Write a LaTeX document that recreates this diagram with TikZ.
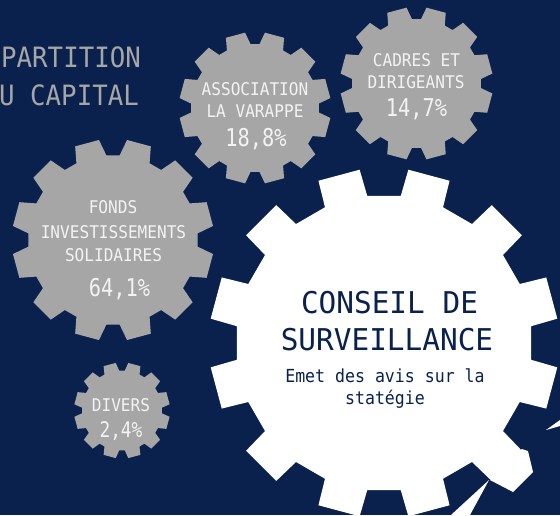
\documentclass[tikz,border=0pt]{standalone}
\usepackage{fontspec}
\newfontfamily\monofont[FakeStretch=0.92]{DejaVu Sans Mono}
\newfontfamily\titlefont[FakeStretch=0.98]{DejaVu Sans Mono}
\newfontfamily\pctfont[FakeStretch=0.83]{DejaVu Sans Mono}
\definecolor{navy}{RGB}{9,33,76}
\definecolor{geargray}{RGB}{166,166,166}
\definecolor{txtwhite}{RGB}{243,243,243}
% #1 colour, #2 x, #3 y, #4 outer radius, #5 root radius, #6 tip half angle, #7 root half angle
\newcommand{\gearfill}[7]{%
  \begin{scope}[shift={(#2,#3)}]
    \fill[#1] ({15-#7}:#5)
      \foreach \k in {0,...,11}{
        -- ({15+30*\k-#7}:#5) -- ({15+30*\k-#6}:#4)
        -- ({15+30*\k+#6}:#4) -- ({15+30*\k+#7}:#5)
      } -- cycle;
  \end{scope}}
\tikzset{
  head/.style={text=geargray, inner sep=0pt, anchor=base east, font=\monofont\fontsize{28}{30}\selectfont},
  lbl/.style={text=txtwhite, inner sep=0pt, anchor=base, font=\monofont\fontsize{17.5}{19}\selectfont},
  pct/.style={text=txtwhite, inner sep=0pt, anchor=base, font=\pctfont\fontsize{24.5}{26}\selectfont},
  pctsmall/.style={pct, font=\pctfont\fontsize{21.5}{23}\selectfont},
  ttl/.style={text=navy, inner sep=0pt, anchor=base, font=\titlefont\fontsize{30}{32}\selectfont},
  sub/.style={text=navy, inner sep=0pt, anchor=base, font=\monofont\fontsize{18}{20}\selectfont},
}
\begin{document}
\begin{tikzpicture}[x=1pt,y=-1pt]
  \useasboundingbox (0,0) rectangle (560,515);
  \clip (0,0) rectangle (560,515);
  \fill[navy] (0,0) rectangle (560,515);

  % gray gears
  \gearfill{geargray}{255}{108}{76}{64}{7.5}{11}
  \gearfill{geargray}{416.5}{83.5}{76.5}{64.5}{7.5}{11}
  \gearfill{geargray}{113}{240}{101}{85}{7}{10.5}
  \gearfill{geargray}{122}{410.5}{48}{40}{7.5}{11}

  % white gear
  \gearfill{white}{384}{343}{175}{148}{7}{8.5}
  % white fragments at the lower right
  \fill[white] (522,449) -- (528,451) -- (533,472) -- (513,492) -- (490,480) -- (505,465) -- cycle;
  \fill[white] (489,480) -- (451,515) -- (470,515) -- cycle;
  \fill[white] (546,430) -- (560,420) -- (560,426) -- cycle;

  % heading
  \node[head] (h1) at (141,67.7) {PARTITION};
  \node[head] (h2) at (139,105) {U CAPITAL};

  % association
  \node[lbl] (a1) at (255,95) {ASSOCIATION};
  \node[lbl] (a2) at (255,117.3) {LA VARAPPE};
  \node[pct] (a3) at (256,146.7) {18,8\%};

  % cadres
  \node[lbl] (c1) at (416.5,66) {CADRES ET};
  \node[lbl] (c2) at (416,88.3) {DIRIGEANTS};
  \node[pct] (c3) at (416.5,116.7) {14,7\%};

  % fonds
  \node[lbl] (f1) at (113,213.3) {FONDS};
  \node[lbl] (f2) at (113.5,238.3) {INVESTISSEMENTS};
  \node[lbl] (f3) at (113.5,261) {SOLIDAIRES};
  \node[pct] (f4) at (119.5,296) {64,1\%};

  % divers
  \node[lbl] (d1) at (121,411.7) {DIVERS};
  \node[pctsmall] (d2) at (121,437.3) {2,4\%};

  % conseil
  \node[ttl] (t1) at (389.5,313.3) {CONSEIL DE};
  \node[ttl] (t2) at (387,350.7) {SURVEILLANCE};
  \node[sub] (s1) at (385,382.7) {Emet des avis sur la};
  \node[sub] (s2) at (385,404.3) {statégie};
\end{tikzpicture}
\end{document}
